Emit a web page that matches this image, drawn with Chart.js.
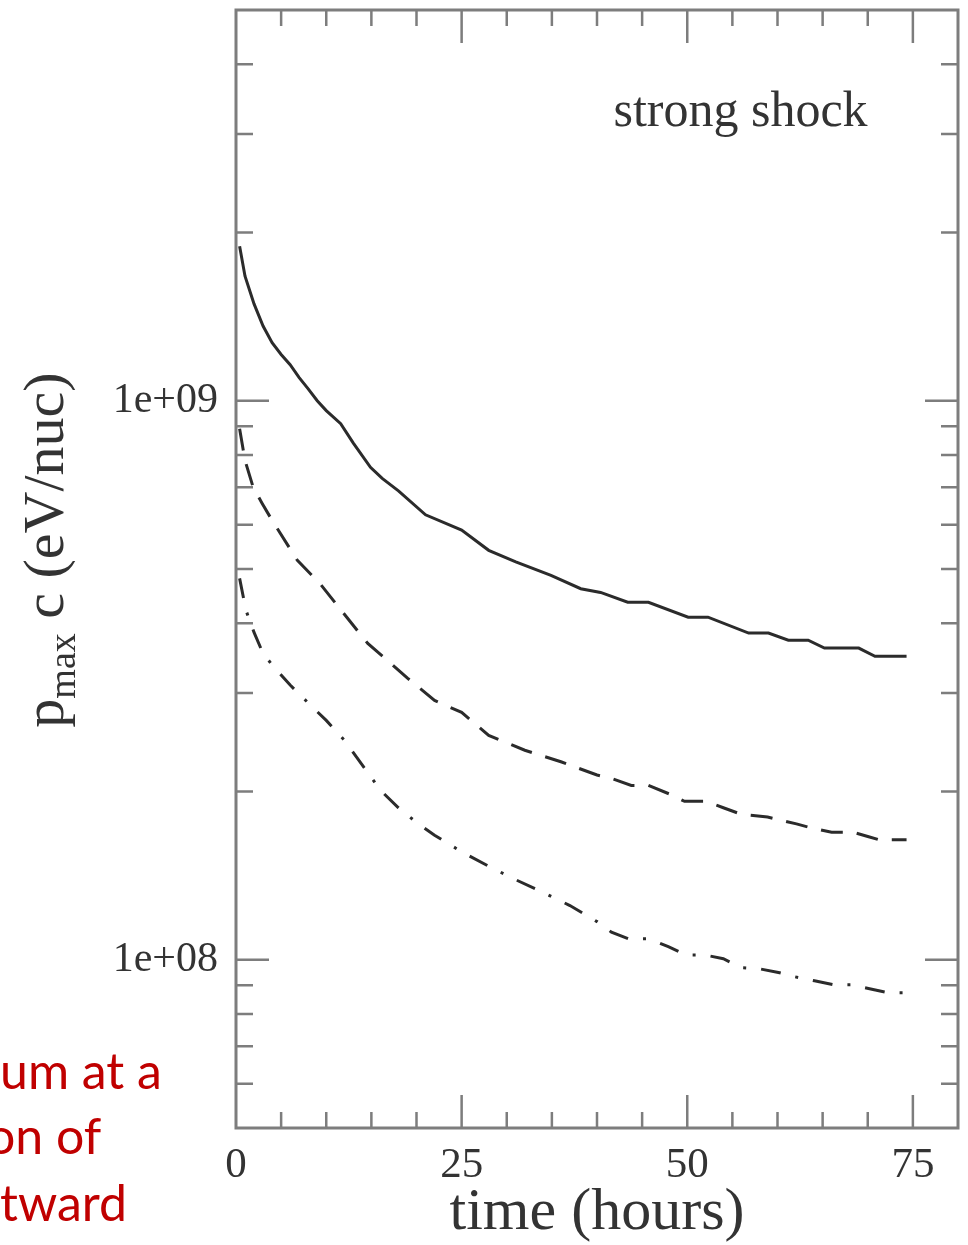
<!DOCTYPE html>
<html>
<head>
<meta charset="utf-8">
<script src="https://cdn.jsdelivr.net/npm/chart.js@4/dist/chart.umd.min.js"></script>
<style>
  body { margin: 0; background: #fff; }
  #wrap { position: relative; width: 968px; height: 1245px; overflow: hidden; }
  .note { position: absolute; font-family: Lato, "Noto Sans", sans-serif; font-size: 50px; line-height: 50px; color: #c00000; white-space: nowrap; }
</style>
</head>
<body>
<div id="wrap">
  <canvas id="shockChart" width="968" height="1245"></canvas>
  <div class="note" style="left:0px; top:1045px;">um at a</div>
  <div class="note" style="left:-13px; top:1110px;">on of</div>
  <div class="note" style="left:0px; top:1177px;">tward</div>
</div>
<script>
// time (hours) and p_max c (eV/nuc)
const solidTime = [0.4, 1, 2, 3, 4, 5, 6, 7, 8, 9, 10, 11.6, 13, 14.9, 16.2, 18, 21, 25, 28, 31, 34.9, 38.2, 40.4, 43.4, 45.7, 50.1, 52.3, 56.8, 59, 61.2, 63.4, 65.2, 69, 70.8, 74.3];
const solidP = [1.89e9, 1.67e9, 1.49e9, 1.36e9, 1.27e9, 1.21e9, 1.16e9, 1.10e9, 1.05e9, 1.0e9, 9.6e8, 9.1e8, 8.4e8, 7.6e8, 7.26e8, 6.9e8, 6.25e8, 5.87e8, 5.4e8, 5.15e8, 4.87e8, 4.61e8, 4.54e8, 4.36e8, 4.36e8, 4.10e8, 4.10e8, 3.84e8, 3.84e8, 3.73e8, 3.73e8, 3.61e8, 3.61e8, 3.49e8, 3.49e8];

const dashTime = [0.4, 1, 1.9, 2.9, 4, 6.8, 9.3, 11.9, 14.6, 16.8, 19, 22, 25, 28, 32, 36, 40, 41.6, 43.8, 45.7, 48, 49.7, 52.1, 54, 56, 58.9, 62.1, 63.8, 66, 68.4, 70.1, 71.2, 74.3];
const dashP = [8.91e8, 7.82e8, 7.0e8, 6.55e8, 6.11e8, 5.18e8, 4.71e8, 4.17e8, 3.68e8, 3.43e8, 3.19e8, 2.91e8, 2.77e8, 2.52e8, 2.37e8, 2.26e8, 2.14e8, 2.11e8, 2.05e8, 2.05e8, 1.98e8, 1.92e8, 1.92e8, 1.87e8, 1.82e8, 1.80e8, 1.75e8, 1.72e8, 1.69e8, 1.69e8, 1.66e8, 1.64e8, 1.64e8];

const dotTime = [0.4, 1.1, 2, 3, 4, 6, 8, 10, 12, 14, 16, 18, 20, 22, 25, 28, 31, 34, 37, 40, 41.6, 43.5, 45.8, 47.9, 49.9, 51.9, 54, 56, 57.9, 60.1, 61.8, 64.1, 66.2, 68.2, 70.2, 72.3, 74.3];
const dotP = [4.81e8, 4.22e8, 3.85e8, 3.53e8, 3.37e8, 3.10e8, 2.88e8, 2.68e8, 2.47e8, 2.23e8, 2.01e8, 1.87e8, 1.76e8, 1.67e8, 1.56e8, 1.47e8, 1.39e8, 1.32e8, 1.25e8, 1.17e8, 1.12e8, 1.09e8, 1.09e8, 1.055e8, 1.02e8, 1.02e8, 1.004e8, 9.68e7, 9.64e7, 9.49e7, 9.33e7, 9.17e7, 9.02e7, 9.02e7, 8.87e7, 8.73e7, 8.73e7];

const xTickValues = [0, 25, 50, 75];
const xTickLabels = ['0', '25', '50', '75'];
const yTickValues = [1e8, 1e9];
const yTickLabels = ['1e+08', '1e+09'];

const serif = '"Liberation Serif", "Times New Roman", serif';
const ink = '#2b2b2b';
const frameColor = '#7d7d7d';

function toPoints(t, p) {
    return t.map((v, i) => ({ x: v, y: p[i] }));
}

// frame, inward ticks on all four sides, annotation and y title
const framePlugin = {
    id: 'frame',
    afterDatasetsDraw(chart) {
        const ctx = chart.ctx;
        const a = chart.chartArea;
        const xs = chart.scales.x;
        const ys = chart.scales.y;
        ctx.save();
        ctx.strokeStyle = frameColor;
        ctx.lineWidth = 3;
        ctx.strokeRect(a.left, a.top, a.right - a.left, a.bottom - a.top);

        ctx.lineWidth = 2.5;
        ctx.beginPath();
        for (let t = 5; t < 80; t += 5) {
            const px = xs.getPixelForValue(t);
            const len = (t % 25 === 0) ? 33 : 16;
            ctx.moveTo(px, a.bottom); ctx.lineTo(px, a.bottom - len);
            ctx.moveTo(px, a.top); ctx.lineTo(px, a.top + len);
        }
        for (let e = 7; e <= 9; e++) {
            for (let k = 1; k <= 9; k++) {
                const v = k * Math.pow(10, e);
                if (v <= ys.min || v >= ys.max) continue;
                const py = ys.getPixelForValue(v);
                const len = (k === 1) ? 33 : 17;
                ctx.moveTo(a.left, py); ctx.lineTo(a.left + len, py);
                ctx.moveTo(a.right, py); ctx.lineTo(a.right - len, py);
            }
        }
        ctx.stroke();

        // annotation
        ctx.fillStyle = '#333';
        ctx.font = '50px ' + serif;
        ctx.textAlign = 'center';
        ctx.textBaseline = 'alphabetic';
        ctx.fillText('strong shock', xs.getPixelForValue(55.9), ys.getPixelForValue(3.1e9));

        // y axis title with subscript
        ctx.textAlign = 'left';
        const big = '58px ' + serif;
        const small = '38px ' + serif;
        ctx.font = big;
        const wp = ctx.measureText('p').width;
        const rest = ' c (eV/nuc)';
        const wr = ctx.measureText(rest).width;
        ctx.font = small;
        const wm = ctx.measureText('max').width;
        const total = wp + wm + wr;
        ctx.translate(63, 550 + total / 2);
        ctx.rotate(-Math.PI / 2);
        ctx.font = big;
        ctx.fillText('p', 0, 0);
        ctx.font = small;
        ctx.fillText('max', wp, 12);
        ctx.font = big;
        ctx.fillText(rest, wp + wm, 0);
        ctx.restore();
    }
};

const ctx = document.getElementById('shockChart').getContext('2d');
const shockChart = new Chart(ctx, {
    type: 'line',
    data: {
        datasets: [{
            label: 'solid',
            data: toPoints(solidTime, solidP),
            borderColor: ink,
            borderWidth: 3,
            pointRadius: 0,
            tension: 0
        }, {
            label: 'dashed',
            data: toPoints(dashTime, dashP),
            borderColor: ink,
            borderWidth: 3,
            borderDash: [22, 14],
            pointRadius: 0,
            tension: 0
        }, {
            label: 'dash-dot',
            data: toPoints(dotTime, dotP),
            borderColor: ink,
            borderWidth: 3,
            borderDash: [20, 15, 3, 15],
            pointRadius: 0,
            tension: 0
        }]
    },
    options: {
        responsive: false,
        animation: false,
        layout: { padding: { left: 0, right: 10, top: 10, bottom: 0 } },
        plugins: {
            legend: { display: false },
            tooltip: { enabled: false }
        },
        scales: {
            x: {
                type: 'linear',
                min: 0,
                max: 80,
                grid: { display: false, drawTicks: false },
                border: { display: false },
                afterBuildTicks: function(scale) {
                    scale.ticks = xTickValues.map(v => ({ value: v }));
                },
                afterFit: function(scale) {
                    scale.height = 117;
                    scale.paddingLeft = 0;
                    scale.paddingRight = 0;
                },
                ticks: {
                    color: '#333',
                    padding: 12,
                    maxRotation: 0,
                    font: { family: serif, size: 43 },
                    callback: function(value) {
                        const i = xTickValues.indexOf(value);
                        return i >= 0 ? xTickLabels[i] : '';
                    }
                },
                title: {
                    display: true,
                    text: 'time (hours)',
                    color: '#333',
                    font: { family: serif, size: 60 },
                    padding: { top: 0, bottom: -4 }
                }
            },
            y: {
                type: 'logarithmic',
                min: 5e7,
                max: 5e9,
                grid: { display: false, drawTicks: false },
                border: { display: false },
                afterBuildTicks: function(scale) {
                    scale.ticks = yTickValues.map(v => ({ value: v }));
                },
                afterFit: function(scale) {
                    scale.width = 236;
                    scale.paddingTop = 0;
                    scale.paddingBottom = 0;
                },
                ticks: {
                    color: '#333',
                    padding: 18,
                    font: { family: serif, size: 42 },
                    callback: function(value) {
                        const i = yTickValues.indexOf(value);
                        return i >= 0 ? yTickLabels[i] : '';
                    }
                }
            }
        }
    },
    plugins: [framePlugin]
});
</script>
</body>
</html>
